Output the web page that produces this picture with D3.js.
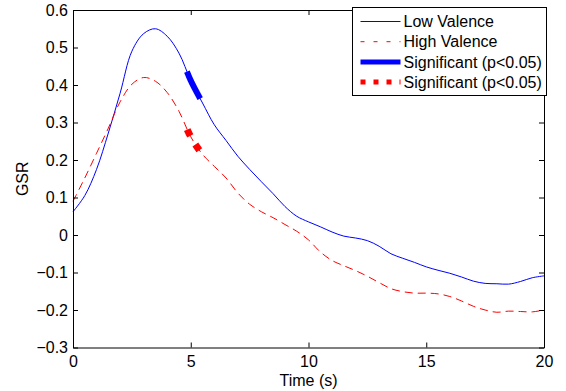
<!DOCTYPE html>
<html>
<head>
<meta charset="utf-8">
<script src="https://cdn.jsdelivr.net/npm/d3@7"></script>
<style>
  body { margin: 0; background: #fff; }
  text { font-family: "Liberation Sans", Arial, sans-serif; }
</style>
</head>
<body>
<svg id="chart" width="566" height="391"></svg>
<script>
// Data
const time = [0, 0.5, 1, 1.5, 2, 2.5, 3, 3.5, 4, 4.5, 5, 5.5, 6, 6.5, 7, 7.5, 8, 8.5, 9, 9.5, 10,
  10.5, 11, 11.5, 12, 12.5, 13, 13.5, 14, 14.5, 15, 15.5, 16, 16.5, 17, 17.5, 18, 18.5, 19, 19.5, 20];

const lowValence = [0.062, 0.105, 0.175, 0.272, 0.378, 0.49, 0.537, 0.55, 0.53, 0.485, 0.412,
  0.352, 0.294, 0.252, 0.21, 0.175, 0.142, 0.11, 0.076, 0.05, 0.035, 0.022, 0.008, -0.003,
  -0.008, -0.015, -0.03, -0.05, -0.062, -0.073, -0.085, -0.094, -0.102, -0.112, -0.123,
  -0.129, -0.13, -0.131, -0.124, -0.114, -0.109];

const highValence = [0.09, 0.152, 0.218, 0.285, 0.355, 0.402, 0.42, 0.41, 0.38, 0.33, 0.262,
  0.215, 0.183, 0.152, 0.112, 0.082, 0.062, 0.046, 0.028, 0.01, -0.013, -0.045, -0.068,
  -0.082, -0.095, -0.11, -0.127, -0.143, -0.151, -0.155, -0.155, -0.157, -0.164, -0.176,
  -0.19, -0.2, -0.206, -0.203, -0.204, -0.205, -0.2];

const sigLow = [4.84, 5.4];
const sigHigh = [4.85, 5.4];

const xTicks = [0, 5, 10, 15, 20];
const yTicks = [-0.3, -0.2, -0.1, 0, 0.1, 0.2, 0.3, 0.4, 0.5, 0.6];

const legendLabels = ["Low Valence", "High Valence", "Significant (p<0.05)", "Significant (p<0.05)"];

// Layout
const margin = { top: 10, right: 22, bottom: 43.5, left: 73 };
const width = 566, height = 391;
const fontSize = "16px";

const $svg = d3.select("#chart");

const x = d3.scaleLinear()
    .domain([0, 20])
    .range([margin.left, width - margin.right]);

const y = d3.scaleLinear()
    .domain([-0.3, 0.6])
    .range([height - margin.bottom, margin.top]);

const fmtYTick = v => v === 0 ? "0" : (v < 0 ? "\u2212" : "") + Math.abs(v).toFixed(1);

// Lines
const line = d3.line()
    .x((d, i) => x(time[i]))
    .y(d => y(d))
    .curve(d3.curveCatmullRom.alpha(0.5));

const $plot = $svg.append("g");

const lowPath = $plot.append("path")
    .attr("d", line(lowValence))
    .attr("fill", "none")
    .attr("stroke", "#0000ff")
    .attr("stroke-width", 1);

const highPath = $plot.append("path")
    .attr("d", line(highValence))
    .attr("fill", "none")
    .attr("stroke", "#ff0000")
    .attr("stroke-width", 1)
    .attr("stroke-dasharray", "8,5");

// piece of a drawn curve between two times, sampled along its length
function segment(pathNode, [t0, t1]) {
    const total = pathNode.getTotalLength();
    const lenAt = px => {
        let lo = 0, hi = total;
        for (let k = 0; k < 40; k++) {
            const mid = (lo + hi) / 2;
            if (pathNode.getPointAtLength(mid).x < px) lo = mid; else hi = mid;
        }
        return lo;
    };
    const l0 = lenAt(x(t0)), l1 = lenAt(x(t1));
    const pts = [];
    for (let l = l0; l < l1; l += 0.5) {
        const p = pathNode.getPointAtLength(l);
        pts.push([p.x, p.y]);
    }
    const p = pathNode.getPointAtLength(l1);
    pts.push([p.x, p.y]);
    return d3.line()(pts);
}

$plot.append("path")
    .attr("d", segment(lowPath.node(), sigLow))
    .attr("fill", "none")
    .attr("stroke", "#0000ff")
    .attr("stroke-width", 6);

$plot.append("path")
    .attr("d", segment(highPath.node(), sigHigh))
    .attr("fill", "none")
    .attr("stroke", "#ff0000")
    .attr("stroke-width", 7)
    .attr("stroke-dasharray", "7,10");

// Axes (ticks point inward, box on all four sides)
$svg.append("g")
    .attr("transform", `translate(0,${height - margin.bottom})`)
    .call(d3.axisBottom(x).tickValues(xTicks).tickSizeInner(-5).tickSizeOuter(0).tickPadding(8));
$svg.append("g")
    .attr("transform", `translate(${margin.left},0)`)
    .call(d3.axisLeft(y).tickValues(yTicks).tickFormat(fmtYTick).tickSizeInner(-5).tickSizeOuter(0).tickPadding(5));
$svg.append("g")
    .attr("transform", `translate(0,${margin.top})`)
    .call(d3.axisTop(x).tickValues(xTicks).tickFormat("").tickSizeInner(-5).tickSizeOuter(0));
$svg.append("g")
    .attr("transform", `translate(${width - margin.right},0)`)
    .call(d3.axisRight(y).tickValues(yTicks).tickFormat("").tickSizeInner(-5).tickSizeOuter(0));

$svg.selectAll(".domain, .tick line").attr("stroke", "#000");
$svg.selectAll(".tick text")
    .attr("fill", "#000")
    .style("font-size", fontSize)
    .style("font-family", '"Liberation Sans", Arial, sans-serif');

// Axis labels
$svg.append("text")
    .attr("x", (x.range()[0] + x.range()[1]) / 2)
    .attr("y", 386)
    .attr("text-anchor", "middle")
    .style("font-size", fontSize)
    .text("Time (s)");

$svg.append("text")
    .attr("transform", `translate(28,${(y.range()[0] + y.range()[1]) / 2}) rotate(-90)`)
    .attr("text-anchor", "middle")
    .style("font-size", fontSize)
    .text("GSR");

// Legend
const legendStyles = [
    { color: "#0000ff", width: 1, dash: null },
    { color: "#ff0000", width: 1, dash: "4,9" },
    { color: "#0000ff", width: 5, dash: null },
    { color: "#ff0000", width: 5, dash: "5,8" },
];

const $legend = $svg.append("g").attr("transform", "translate(352.5,7.5)");
$legend.append("rect")
    .attr("width", 194)
    .attr("height", 88)
    .attr("fill", "#fff")
    .attr("stroke", "#000");

const $items = $legend.selectAll("g.item")
    .data(legendLabels)
    .join("g")
      .attr("class", "item")
      .attr("transform", (d, i) => `translate(0,${14 + i * 20.2})`);

$items.append("line")
    .attr("x1", 8).attr("x2", 48)
    .attr("stroke", (d, i) => legendStyles[i].color)
    .attr("stroke-width", (d, i) => legendStyles[i].width)
    .attr("stroke-dasharray", (d, i) => legendStyles[i].dash);

$items.append("text")
    .attr("x", 51)
    .attr("dy", "0.36em")
    .style("font-size", fontSize)
    .text(d => d);
</script>
</body>
</html>
